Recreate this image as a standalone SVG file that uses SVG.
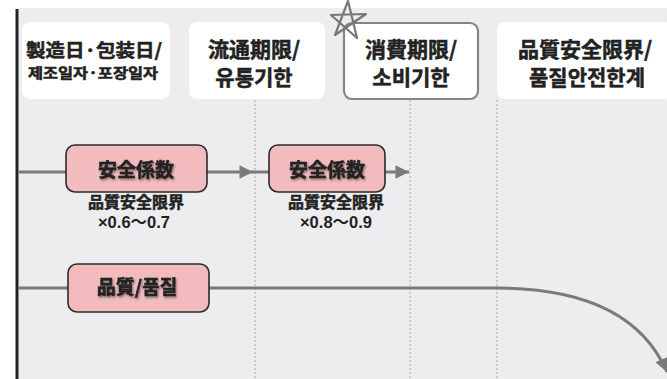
<svg xmlns="http://www.w3.org/2000/svg" width="667" height="379" viewBox="0 0 667 379">
<defs>
<style>
.hdr{fill:#fff;}
.jp{font-family:"Noto Sans CJK JP","Noto Sans CJK KR",sans-serif;font-weight:bold;fill:#222;stroke:#222;stroke-width:0.5;text-anchor:middle;}
.kr{font-family:"Noto Sans CJK KR","Noto Sans CJK JP",sans-serif;font-weight:bold;fill:#222;stroke:#222;stroke-width:0.5;text-anchor:middle;}
.num{font-family:"Liberation Sans","Noto Sans CJK JP",sans-serif;font-weight:bold;fill:#222;text-anchor:middle;}
.pink{fill:#f2bcbe;stroke:#2a2a2a;stroke-width:1.6;}
.flow{fill:none;stroke:#7a7a7a;stroke-width:3;}
.guide{stroke:#b4b4b8;stroke-width:1.2;stroke-dasharray:2 2;}
</style>
<marker id="ah" viewBox="0 0 10 10" refX="10" refY="5" markerWidth="5" markerHeight="4.5" markerUnits="strokeWidth" orient="auto">
<path d="M0,0 L10,5 L0,10 z" fill="#7a7a7a"/>
</marker>
<filter id="sh" x="-10%" y="-20%" width="130%" height="150%">
<feDropShadow dx="1" dy="1.5" stdDeviation="0.8" flood-color="#000" flood-opacity="0.45"/>
</filter>
</defs>
<rect x="0" y="0" width="667" height="379" fill="#fff"/>
<rect x="17" y="8" width="650" height="371" fill="#ededf0"/>

<g id="guides">
<line class="guide" x1="255" y1="100" x2="255" y2="379"/>
<line class="guide" x1="410" y1="100" x2="410" y2="379"/>
<line class="guide" x1="497" y1="100" x2="497" y2="379"/>
</g>

<line id="axis" x1="17" y1="9" x2="17" y2="379" stroke="#222" stroke-width="3"/>

<g id="connectors">
<line class="flow" x1="18" y1="172" x2="67" y2="172"/>
<line class="flow" x1="207" y1="172" x2="253" y2="172" marker-end="url(#ah)"/>
<line class="flow" x1="252" y1="172" x2="270" y2="172"/>
<line class="flow" x1="385" y1="172" x2="409" y2="172" marker-end="url(#ah)"/>
<line class="flow" x1="18" y1="288" x2="68" y2="288"/>
<path class="flow" d="M209,288 L497,288 C575,288 640,310 667,372" marker-end="url(#ah)"/>
</g>

<g id="h1">
<rect class="hdr" x="22" y="22" width="148" height="77" rx="8"/>
<text class="jp" x="94" y="57" font-size="18" textLength="136" lengthAdjust="spacingAndGlyphs">製造日·包装日/</text>
<text class="kr" x="93" y="78" font-size="14" stroke-width="0.3" textLength="130" lengthAdjust="spacingAndGlyphs">제조일자·포장일자</text>
</g>
<g id="h2">
<rect class="hdr" x="189" y="22" width="136" height="77" rx="8"/>
<text class="jp" x="254" y="57" font-size="21">流通期限/</text>
<text class="kr" x="254" y="85" font-size="21">유통기한</text>
</g>
<g id="h3">
<rect class="hdr" x="344" y="23" width="134" height="76" rx="8" stroke="#858585" stroke-width="2.2"/>
<text class="jp" x="411" y="57" font-size="21">消費期限/</text>
<text class="kr" x="411" y="85" font-size="21">소비기한</text>
<polygon points="348,1 357,38 331,15 366,14 335,35" fill="none" stroke="#777" stroke-width="2.2" stroke-linejoin="round"/>
</g>
<g id="h4">
<rect class="hdr" x="497" y="22" width="175" height="77" rx="8"/>
<text class="jp" x="585" y="57" font-size="21">品質安全限界/</text>
<text class="kr" x="587" y="85" font-size="21">품질안전한계</text>
</g>

<g id="sf1">
<rect class="pink" x="66" y="145" width="141" height="47" rx="9"/>
<text class="jp" x="136" y="177" font-size="19" filter="url(#sh)">安全係数</text>
<text class="jp" x="136" y="208" font-size="16" stroke-width="0.3">品質安全限界</text>
<text class="num" x="134" y="228" font-size="16.5">×0.6〜0.7</text>
</g>
<g id="sf2">
<rect class="pink" x="269" y="145" width="116" height="47" rx="9"/>
<text class="jp" x="327" y="177" font-size="19" filter="url(#sh)">安全係数</text>
<text class="jp" x="336" y="208" font-size="16" stroke-width="0.3">品質安全限界</text>
<text class="num" x="336" y="228" font-size="16.5">×0.8〜0.9</text>
</g>
<g id="quality">
<rect class="pink" x="68" y="264" width="141" height="48" rx="9"/>
<text class="kr" x="137" y="294" font-size="19" filter="url(#sh)">品質/품질</text>
</g>
</svg>
